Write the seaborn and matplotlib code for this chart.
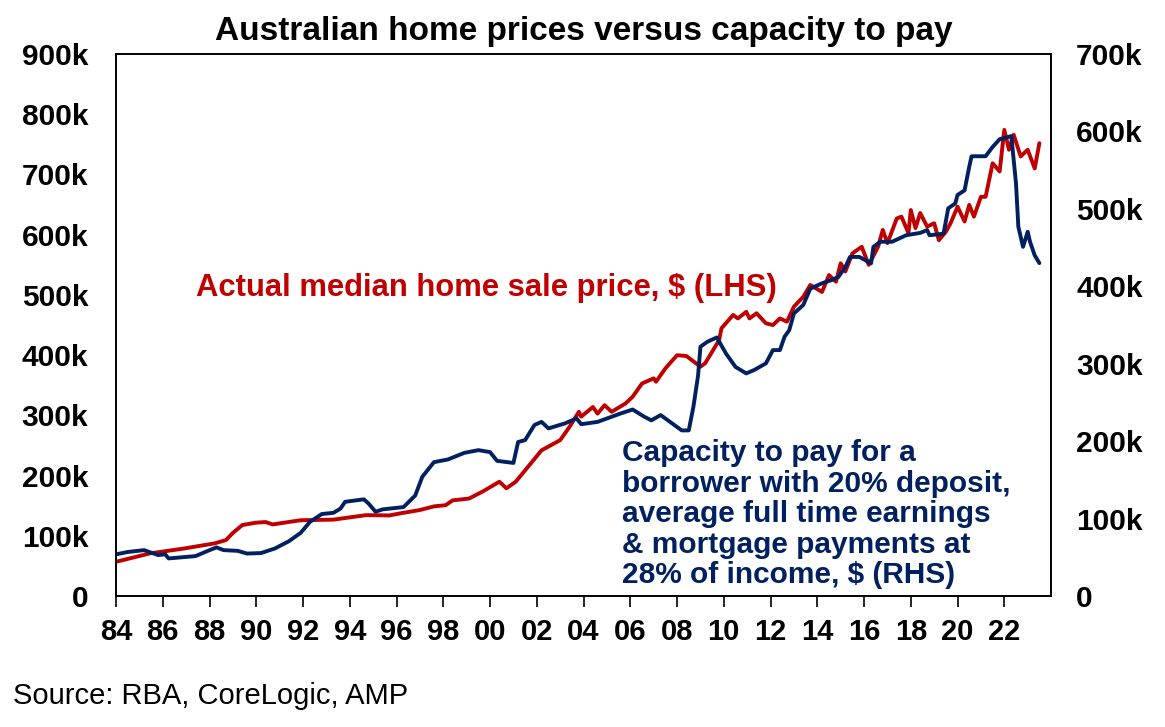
import pandas as pd
import matplotlib
matplotlib.use("Agg")
import matplotlib.pyplot as plt
import seaborn as sns
from matplotlib.ticker import FuncFormatter, MultipleLocator

# Median home sale price, $k (left axis)
price_year = [1984.0, 1985.45, 1986.9, 1988.2, 1988.7, 1989.0, 1989.4, 1990.0, 1990.4, 1990.7,
              1991.2, 1991.9, 1993.3, 1994.7, 1995.7, 1996.1, 1997.0, 1997.6, 1998.1, 1998.4,
              1999.1, 1999.7, 2000.4, 2000.7, 2001.1, 2001.8, 2002.2, 2003.0, 2003.4, 2003.8,
              2003.9, 2004.4, 2004.6, 2004.9, 2005.2, 2005.8, 2006.1, 2006.5, 2007.0, 2007.1,
              2007.5, 2008.0, 2008.4, 2009.0, 2009.2, 2009.8, 2009.9, 2010.4, 2010.6, 2010.96,
              2011.1, 2011.4, 2011.8, 2012.1, 2012.4, 2012.7, 2013.0, 2013.4, 2013.7, 2014.2,
              2014.5, 2014.8, 2015.0, 2015.2, 2015.5, 2015.9, 2016.2, 2016.6, 2016.8, 2017.0,
              2017.4, 2017.6, 2017.9, 2018.0, 2018.2, 2018.4, 2018.7, 2019.0, 2019.2, 2019.5,
              2019.7, 2020.0, 2020.3, 2020.5, 2020.7, 2021.0, 2021.2, 2021.5, 2021.8, 2022.0,
              2022.2, 2022.4, 2022.7, 2023.0, 2023.3, 2023.5]
price_k = [57, 71, 79, 87.5, 93, 105, 118, 122, 123, 119,
           122, 126, 127, 134.5, 134, 137, 143, 149, 151, 159,
           162, 174, 190, 179, 190, 223, 242, 259, 281, 306,
           298, 314, 303, 317, 306, 320, 331, 353, 361.6, 356,
           378, 400, 398.6, 381, 386.5, 425, 444.7, 466.8, 461, 472,
           461, 469.6, 453, 450, 461, 455.7, 480.6, 497, 516.6, 505,
           533, 522, 552.6, 539, 569, 580, 550, 580, 608, 586,
           627, 630, 602.6, 641, 611, 636, 613.5, 619, 591, 605,
           619, 646.6, 622, 649.5, 630, 663, 663, 718.6, 705, 774,
           741, 766, 730, 741, 710, 752]

# Capacity to pay, $k (right axis)
capacity_year = [1984.0, 1984.5, 1985.2, 1985.8, 1986.1, 1986.25, 1987.4, 1988.0, 1988.3, 1988.6,
                 1989.2, 1989.6, 1990.2, 1990.8, 1991.4, 1991.9, 1992.3, 1992.8, 1993.3, 1993.6,
                 1993.8, 1994.6, 1994.8, 1995.1, 1995.4, 1996.3, 1996.8, 1997.1, 1997.6, 1998.2,
                 1998.9, 1999.5, 2000.0, 2000.3, 2001.0, 2001.2, 2001.5, 2001.9, 2002.2, 2002.5,
                 2003.2, 2003.7, 2003.9, 2004.6, 2005.2, 2005.6, 2006.1, 2006.6, 2006.9, 2007.3,
                 2007.7, 2008.2, 2008.5, 2008.7, 2008.9, 2009.0, 2009.3, 2009.7, 2010.1, 2010.5,
                 2010.96, 2011.3, 2011.8, 2012.1, 2012.4, 2012.6, 2012.8, 2013.0, 2013.4, 2013.7,
                 2014.2, 2014.6, 2014.9, 2015.2, 2015.4, 2015.8, 2016.3, 2016.4, 2016.7, 2017.2,
                 2017.8, 2018.4, 2018.7, 2018.8, 2019.4, 2019.6, 2019.9, 2020.0, 2020.3, 2020.5,
                 2020.6, 2021.2, 2021.5, 2021.8, 2022.3, 2022.5, 2022.6, 2022.8, 2023.0, 2023.1,
                 2023.3, 2023.5]
capacity_k = [54, 57, 59.4, 53, 54, 48.7, 51.7, 59.4, 62.9, 59.4,
              58.5, 55, 55.6, 61.6, 71, 81.8, 96, 106, 107.6, 113,
              121.8, 125, 119.7, 109, 112, 115, 130, 154, 173, 176.5,
              185, 188.5, 186, 174.7, 172, 199, 201.5, 221, 225, 216.6,
              223, 229.5, 222, 225, 231.6, 236, 241, 231.6, 227, 233.8,
              225, 214, 214, 244.5, 285, 322, 328.5, 334, 313, 296,
              287.6, 292, 300.5, 317.7, 317.7, 335, 343.5, 365, 376, 397,
              404, 408, 412, 425, 438, 438, 429.7, 451, 457.6, 457.6,
              466, 469, 472.7, 466, 468, 500.7, 507, 518, 524, 554.5,
              568, 568, 580, 590, 594, 533, 477, 451, 470.5, 457.6,
              440, 430]

x_ticks = list(range(1984, 2024, 2))
x_tick_labels = [f"{y % 100:02d}" for y in x_ticks]

title = "Australian home prices versus capacity to pay"
price_label = "Actual median home sale price, $ (LHS)"
capacity_label = ("Capacity to pay for a\nborrower with 20% deposit,\naverage full time earnings\n"
                  "& mortgage payments at\n28% of income, $ (RHS)")
source = "Source: RBA, CoreLogic, AMP"

red = "#C00000"
navy = "#002060"

price_df = pd.DataFrame({"year": price_year, "value": price_k})
capacity_df = pd.DataFrame({"year": capacity_year, "value": capacity_k})

sns.set_style("white")
plt.rcParams["font.family"] = ["Liberation Sans", "DejaVu Sans"]
plt.rcParams["text.color"] = "black"
plt.rcParams["xtick.color"] = "black"
plt.rcParams["ytick.color"] = "black"

fig = plt.figure(figsize=(11.65, 7.27), dpi=100)
ax = fig.add_axes([0.0996, 0.180, 0.8026, 0.7457])
ax2 = ax.twinx()

sns.lineplot(data=price_df, x="year", y="value", ax=ax, color=red, linewidth=2.8)
sns.lineplot(data=capacity_df, x="year", y="value", ax=ax2, color=navy, linewidth=2.8)

ax.set_xlim(1984, 2024)
ax.set_ylim(0, 900)
ax2.set_ylim(0, 700)
ax.yaxis.set_major_locator(MultipleLocator(100))
ax2.yaxis.set_major_locator(MultipleLocator(100))
kfmt = FuncFormatter(lambda v, p: "0" if v == 0 else f"{int(v)}k")
ax.yaxis.set_major_formatter(kfmt)
ax2.yaxis.set_major_formatter(kfmt)
ax.set_xticks(x_ticks)
ax.set_xticklabels(x_tick_labels)

for a in (ax, ax2):
    a.set_xlabel("")
    a.set_ylabel("")
    for s in a.spines.values():
        s.set_color("black")
        s.set_linewidth(1.2)

ax.tick_params(axis="x", direction="out", length=8, width=1.2, color="black", pad=8,
               labelsize=21, bottom=True)
ax.tick_params(axis="y", length=0, pad=20, labelsize=21.5)
ax2.tick_params(axis="y", length=0, pad=18, labelsize=21.5)
for lab in ax.get_xticklabels() + ax.get_yticklabels() + ax2.get_yticklabels():
    lab.set_fontweight("bold")

ax.set_title(title, fontsize=24, fontweight="bold", pad=10)

ax.text(1987.4, 512, price_label, color=red, fontsize=22.3, fontweight="bold", va="center", ha="left")
ax.text(2005.65, 261, capacity_label, color=navy, fontsize=21.5, fontweight="bold",
        va="top", ha="left", linespacing=1.12)

fig.text(0.011, 0.042, source, fontsize=21, ha="left", va="center")

fig.savefig("out.png", dpi=100)
